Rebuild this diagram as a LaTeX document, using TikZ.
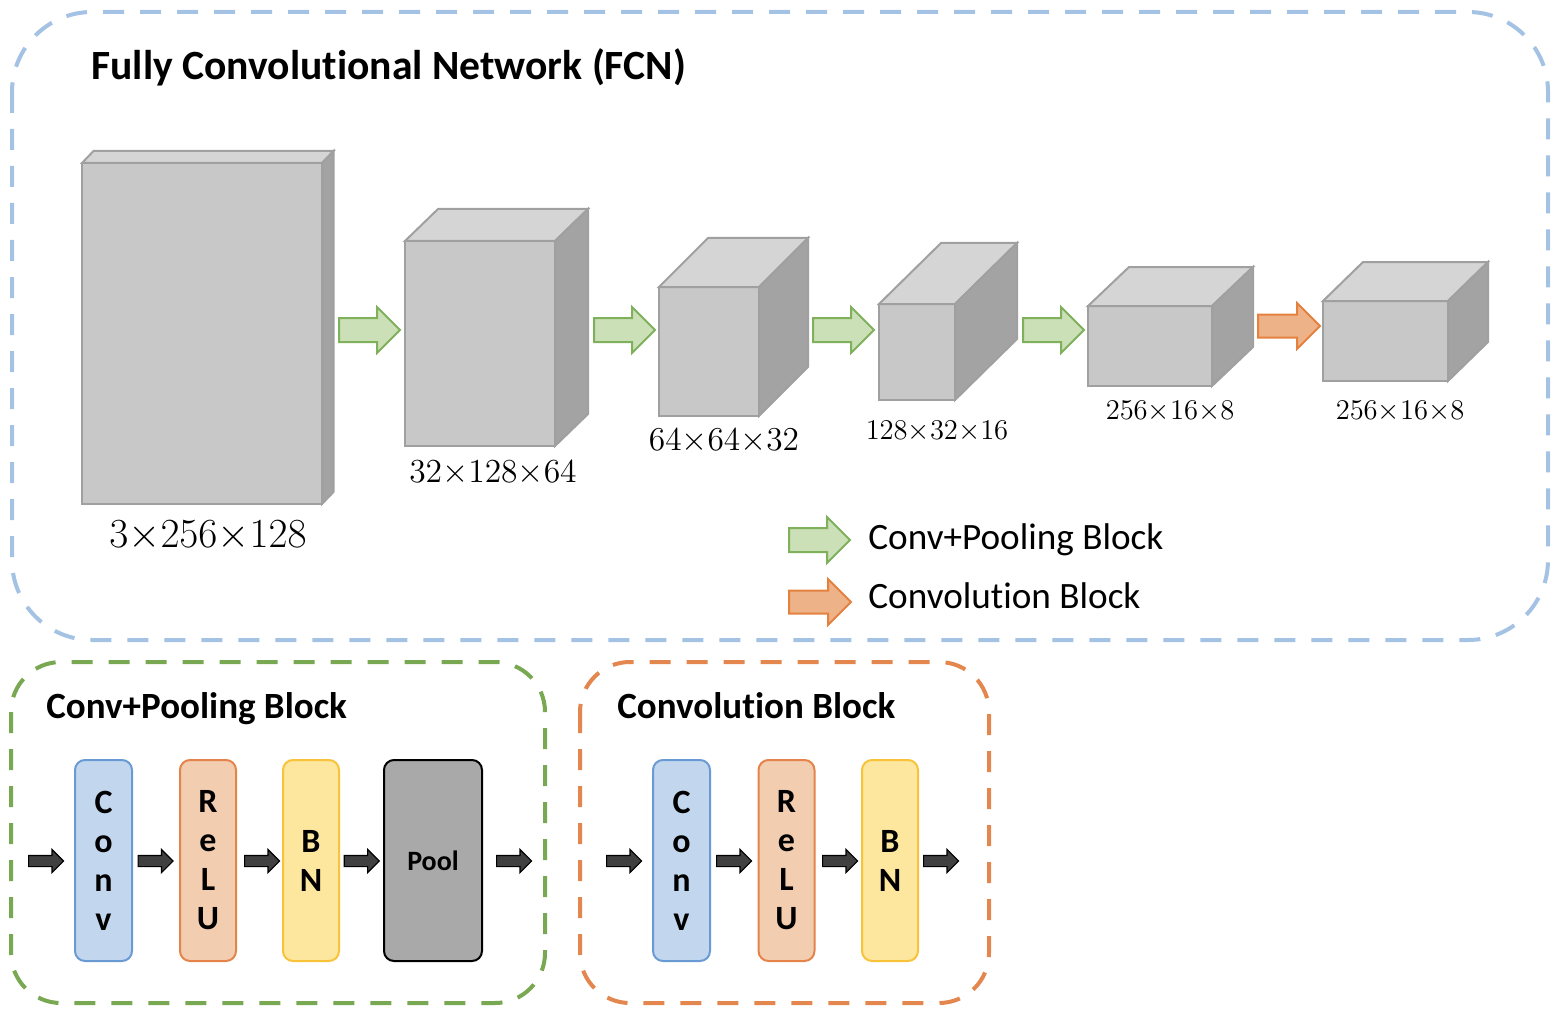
\documentclass[tikz,border=0pt]{standalone}
\usepackage{fix-cm}
\usepackage{fontspec}
\setmainfont{Carlito}[Ligatures=NoCommon]
\usetikzlibrary{shapes.arrows}

\definecolor{fcnblue}{HTML}{A4C2E3}
\definecolor{poolgreen}{HTML}{78A952}
\definecolor{convorange}{HTML}{E3874F}
\definecolor{gfill}{HTML}{CCE0B8}
\definecolor{gline}{HTML}{7FB05C}
\definecolor{ofill}{HTML}{EDB287}
\definecolor{oline}{HTML}{E5813F}
\definecolor{convfill}{HTML}{C2D7EE}
\definecolor{convline}{HTML}{6A9AD3}
\definecolor{relufill}{HTML}{F3CDB0}
\definecolor{reluline}{HTML}{E4844A}
\definecolor{bnfill}{HTML}{FDE69D}
\definecolor{bnline}{HTML}{F8C33A}
\definecolor{poolfill}{HTML}{A9A9A9}
\definecolor{frontgray}{HTML}{C8C8C8}
\definecolor{topgray}{HTML}{D5D5D5}
\definecolor{sidegray}{HTML}{A3A3A3}
\definecolor{edgegray}{HTML}{A0A0A0}
\definecolor{arrowgray}{HTML}{404040}

\tikzset{
	frame/.style={line width=2pt, dash pattern=on 10.5pt off 8pt, rounded corners=#1},
	face/.style={draw=edgegray, line width=1pt, inner sep=0pt, outer sep=0pt},
	dimlabel/.style={inner sep=0pt},
	blockarrow/.style={single arrow, anchor=tail, line width=1pt, inner xsep=0pt, text height=0pt, text depth=0pt,
		single arrow tip angle=90, single arrow head indent=0pt, minimum width=0pt},
	poolarrow/.style={blockarrow, fill=gfill, draw=gline, minimum height=30.5pt, inner ysep=5.5pt,
		single arrow head extend=5.5pt},
	convarrow/.style={blockarrow, fill=ofill, draw=oline, minimum height=31pt, inner ysep=5.25pt,
		single arrow head extend=5.75pt},
	flowarrow/.style={blockarrow, fill=arrowgray, draw=black, line width=0.6pt, minimum height=17.5pt,
		inner ysep=2.5pt, single arrow head extend=3pt},
	unit/.style={draw, line width=1pt, rounded corners=5pt, minimum width=28pt, minimum height=100.5pt,
		inner sep=0pt, align=center, font=\bfseries\fontsize{17}{19.5}\selectfont},
	conv/.style={unit, fill=convfill, draw=convline, minimum width=28.5pt},
	relu/.style={unit, fill=relufill, draw=reluline},
	bn/.style={unit, fill=bnfill, draw=bnline},
	pool/.style={unit, fill=poolfill, draw=black, minimum width=49pt, font=\bfseries\fontsize{14}{17}\selectfont},
	heading/.style={anchor=base west, inner sep=0pt, font=\bfseries\fontsize{#1}{#1}\selectfont},
	legend/.style={anchor=west, inner sep=0pt, font=\fontsize{18.6}{22}\selectfont},
}

% front face as a node, then top and side faces on its corners
% #1 name, #2 #3 centre of front, #4 #5 width and height, #6 #7 depth offset (px)
\newcommand{\layerbox}[7]{%
	\node[face, fill=frontgray, minimum width=#4*0.5pt, minimum height=#5*0.5pt] at (#2,#3) (#1) {};
	\fill[face, fill=topgray] (#1.north west) -- ++(#6,-#7) -- ++(#4,0) -- (#1.north east) -- cycle;
	\fill[face, fill=sidegray] (#1.north east) -- ++(#6,-#7) -- ++(0,#5) -- (#1.south east) -- cycle;
}

\begin{document}
\begin{tikzpicture}[x=0.5pt,y=-0.5pt]
	\useasboundingbox (0,0) rectangle (1562,1016);

	% FCN
	\draw[frame=40pt, fcnblue] (12,12) rectangle (1548,640);
	\node[heading=20.8] at (91,80) (fcn){Fully Convolutional Network (FCN)};

	\layerbox{c1}{202}{333.5}{240}{341}{11.5}{12}
	\layerbox{c2}{480}{343.5}{150}{205}{33}{32}
	\layerbox{c3}{709}{351.5}{100}{129}{49}{49}
	\layerbox{c4}{917}{352}{76}{96}{62}{61}
	\layerbox{c5}{1150}{346}{124}{80}{41}{39}
	\layerbox{c6}{1385.5}{341}{125}{80}{40}{39}

	\node[dimlabel, font=\fontsize{20.7}{24}\selectfont] at (208,536) (l1){$3{\times}256{\times}128$};
	\node[dimlabel, font=\fontsize{16.8}{20}\selectfont] at (493,473) (l2){$32{\times}128{\times}64$};
	\node[dimlabel, font=\fontsize{16.7}{20}\selectfont] at (724,441) (l3){$64{\times}64{\times}32$};
	\node[dimlabel, font=\fontsize{14.3}{17}\selectfont] at (937,431) (l4){$128{\times}32{\times}16$};
	\node[dimlabel, font=\fontsize{14.3}{17}\selectfont] at (1170,411) (l5){$256{\times}16{\times}8$};
	\node[dimlabel, font=\fontsize{14.3}{17}\selectfont] at (1400,411) (l6){$256{\times}16{\times}8$};

	\node[poolarrow] at (338,330) (a1){};
	\node[poolarrow] at (593,330) (a2){};
	\node[poolarrow] at (812,330) (a3){};
	\node[poolarrow] at (1022,330) (a4){};
	\node[convarrow] at (1257,326) (a5){};

	% legend
	\node[poolarrow] at (788,540) (k1){};
	\node[convarrow] at (788,602) (k2){};
	\node[legend] at (868,540) (t1){Conv+Pooling Block};
	\node[legend] at (868,596) (t2){Convolution Block};

	% Conv+Pooling Block
	\draw[frame=25pt, poolgreen] (11,662) rectangle (545,1003);
	\node[heading=18.5] at (46,718) (cpb){Conv+Pooling Block};
	\node[conv] at (103.5,860.5) (cv1){C\\o\\n\\v};
	\node[relu] at (208,860.5) (rl1){R\\e\\L\\U};
	\node[bn] at (311,860.5) (bn1){B\\N};
	\node[pool] at (433,860.5) (pl1){Pool};
	\node[flowarrow] at (28,861) (f1){};
	\node[flowarrow] at (137.5,861) (f2){};
	\node[flowarrow] at (244,861) (f3){};
	\node[flowarrow] at (343.6,861) (f4){};
	\node[flowarrow] at (496,861) (f5){};

	% Convolution Block
	\draw[frame=25pt, convorange] (580,662) rectangle (989,1003);
	\node[heading=18.5] at (617,718) (cb){Convolution Block};
	\node[conv] at (681.5,860.5) (cv2){C\\o\\n\\v};
	\node[relu] at (786.5,860.5) (rl2){R\\e\\L\\U};
	\node[bn] at (890,860.5) (bn2){B\\N};
	\node[flowarrow] at (606,861) (g1){};
	\node[flowarrow] at (716,861) (g2){};
	\node[flowarrow] at (822,861) (g3){};
	\node[flowarrow] at (923,861) (g4){};
\end{tikzpicture}
\end{document}
